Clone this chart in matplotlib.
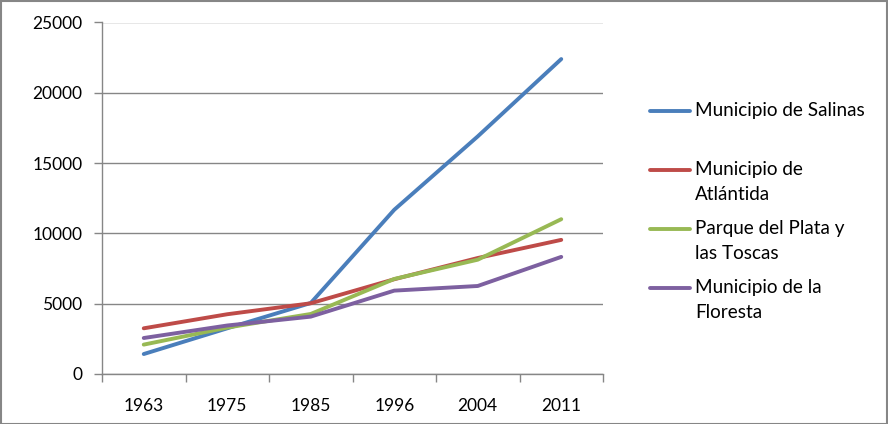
import matplotlib
matplotlib.use("Agg")
import matplotlib.pyplot as plt
from matplotlib.lines import Line2D
from matplotlib.patches import Rectangle

years = ["1963", "1975", "1985", "1996", "2004", "2011"]
salinas = [1420, 3250, 5050, 11680, 16900, 22400]
atlantida = [3250, 4250, 5030, 6740, 8250, 9540]
parque = [2090, 3300, 4270, 6760, 8130, 11010]
floresta = [2560, 3450, 4080, 5930, 6260, 8330]
series = [
    ("Municipio de Salinas", salinas, "#4A7EBB"),
    ("Municipio de\nAtlántida", atlantida, "#BE4B48"),
    ("Parque del Plata y\nlas Toscas", parque, "#98B954"),
    ("Municipio de la\nFloresta", floresta, "#7D60A0"),
]

plt.rcParams['font.family'] = ['Lato', 'DejaVu Sans']
FS = 12.5
LFS = 13.6
W, H = 888, 424
fig = plt.figure(figsize=(W/100, H/100), dpi=100)
ax = fig.add_axes([102/W, 1-374/H, (603-102)/W, (374-22.5)/H])

xs = [i + 0.5 for i in range(len(years))]
for label, vals, col in series:
    ax.plot(xs, vals, color=col, lw=2.8, solid_capstyle='round', solid_joinstyle='round')

ax.set_xlim(0, len(years))
ax.set_ylim(0, 25000)
ax.set_yticks(range(0, 25001, 5000))
ax.set_xticks(xs)
ax.set_xticklabels(years)
ax.set_xticks(range(0, len(years)+1), minor=True)
ax.tick_params(axis='x', which='major', length=0, pad=17, labelsize=FS)
ax.tick_params(axis='x', which='minor', length=6, color='#868686', width=1)
ax.tick_params(axis='y', length=6, color='#868686', width=1, labelsize=FS, pad=8)
ax.grid(axis='y', color='#868686', lw=1)
ax.set_axisbelow(True)
for s in ['top', 'right']:
    ax.spines[s].set_visible(False)
for s in ['left', 'bottom']:
    ax.spines[s].set_color('#868686')
    ax.spines[s].set_linewidth(1)

# legend drawn manually
y0 = 111
for i, (label, vals, col) in enumerate(series):
    y = y0 + i*59
    fig.add_artist(Line2D([650/W, 690/W], [1-y/H, 1-y/H], color=col, lw=2.8,
                          solid_capstyle='round'))
    fig.text(695/W, 1-(y-9)/H, label, fontsize=LFS, va='top', ha='left',
             linespacing=1.55)

fig.add_artist(Rectangle((0.5/W, 0.5/H), 1-1.5/W, 1-1.5/H, transform=fig.transFigure,
                         fill=False, edgecolor='#868686', lw=1.5))
fig.savefig("out.png", dpi=100)
